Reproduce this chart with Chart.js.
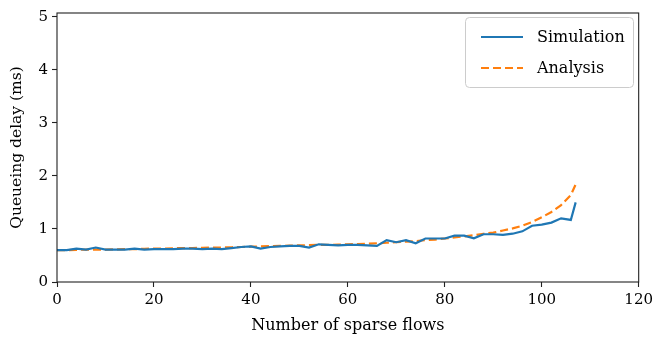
<!DOCTYPE html>
<html><head><meta charset="utf-8">
<script src="https://cdn.jsdelivr.net/npm/chart.js@4/dist/chart.umd.min.js"></script>
<style>html,body{margin:0;padding:0;background:#fff;}#wrap{width:657px;height:339px;}</style>
</head><body><div id="wrap"><canvas id="c" width="657" height="339"></canvas></div>
<script>
const flows = [0,2,4,6,8,10,12,14,16,18,20,22,24,26,28,30,32,34,36,38,40,42,44,46,48,50,52,54,56,58,60,62,64,66,68,70,72,74,76,78,80,82,84,86,88,90,92,94,96,98,100,102,104,106,107];
const simulation = [0.60,0.60,0.63,0.61,0.65,0.61,0.61,0.61,0.63,0.61,0.62,0.62,0.62,0.63,0.63,0.62,0.63,0.62,0.64,0.66,0.67,0.63,0.66,0.67,0.68,0.68,0.65,0.71,0.70,0.69,0.70,0.70,0.69,0.68,0.79,0.75,0.79,0.73,0.82,0.82,0.82,0.875,0.875,0.825,0.90,0.90,0.89,0.91,0.955,1.06,1.08,1.12,1.20,1.17,1.50];
const analysis = [0.60,0.60,0.605,0.61,0.61,0.61,0.615,0.62,0.62,0.625,0.63,0.63,0.635,0.64,0.64,0.645,0.65,0.65,0.655,0.66,0.665,0.67,0.675,0.68,0.685,0.69,0.695,0.70,0.70,0.705,0.71,0.715,0.72,0.73,0.74,0.75,0.76,0.77,0.79,0.80,0.82,0.84,0.86,0.88,0.91,0.93,0.97,1.01,1.06,1.13,1.22,1.32,1.45,1.64,1.84];
const xTicks = [0,20,40,60,80,100,120];
const yTicks = [0,1,2,3,4,5];
const seriesNames = ['Simulation','Analysis'];
const FONT = "'DejaVu Serif', serif";

const boxPlugin = {
  id:'box',
  afterDraw(chart){
    const {ctx, chartArea:a} = chart;
    ctx.save();
    ctx.strokeStyle='#222'; ctx.lineWidth=1.1;
    ctx.strokeRect(a.left, a.top, a.right-a.left, a.bottom-a.top);
    // legend
    const bx=465.5, by=17.5, bw=168, bh=70, r=4;
    ctx.fillStyle='rgba(255,255,255,0.8)';
    ctx.strokeStyle='#cccccc'; ctx.lineWidth=1;
    ctx.beginPath();
    ctx.moveTo(bx+r,by); ctx.lineTo(bx+bw-r,by); ctx.arcTo(bx+bw,by,bx+bw,by+r,r);
    ctx.lineTo(bx+bw,by+bh-r); ctx.arcTo(bx+bw,by+bh,bx+bw-r,by+bh,r);
    ctx.lineTo(bx+r,by+bh); ctx.arcTo(bx,by+bh,bx,by+bh-r,r);
    ctx.lineTo(bx,by+r); ctx.arcTo(bx,by,bx+r,by,r); ctx.closePath();
    ctx.fill(); ctx.stroke();
    const ds = chart.data.datasets;
    const ys=[37,68];
    ds.forEach((d,i)=>{
      ctx.strokeStyle=d.borderColor; ctx.lineWidth=2.2;
      ctx.setLineDash(d.borderDash||[]);
      ctx.beginPath(); ctx.moveTo(481,ys[i]); ctx.lineTo(523,ys[i]); ctx.stroke();
      ctx.setLineDash([]);
      ctx.fillStyle='#000'; ctx.font="16px "+FONT; ctx.textBaseline='middle';
      ctx.fillText(d.label, 537, ys[i]+1);
    });
    ctx.restore();
  }
};

new Chart(document.getElementById('c'), {
  type:'line',
  data:{
    datasets:[
      {label:seriesNames[0], data:flows.map((x,i)=>({x,y:simulation[i]})), borderColor:'#1f77b4', borderWidth:2.2, pointRadius:0, tension:0, fill:false},
      {label:seriesNames[1], data:flows.map((x,i)=>({x,y:analysis[i]})), borderColor:'#ff7f0e', borderWidth:2.2, borderDash:[8,4], pointRadius:0, tension:0, fill:false}
    ]
  },
  options:{
    responsive:false, animation:false,
    layout:{padding:{top:10,right:15,left:0,bottom:0}},
    plugins:{legend:{display:false}, tooltip:{enabled:false}},
    scales:{
      x:{type:'linear', min:0, max:120,
        afterBuildTicks(s){ s.ticks = xTicks.map(v=>({value:v})); },
        afterFit(s){ s.height=57; },
        grid:{drawOnChartArea:false, tickLength:5, color:'#222', tickWidth:1.1},
        border:{display:false},
        ticks:{color:'#000', font:{family:FONT,size:15}, padding:4, maxRotation:0},
        title:{display:true, text:'Number of sparse flows', color:'#000', font:{family:FONT,size:16}, padding:{top:6}}
      },
      y:{type:'linear', min:0, max:5.07,
        afterBuildTicks(s){ s.ticks = yTicks.map(v=>({value:v})); },
        afterFit(s){ s.width=57; },
        grid:{drawOnChartArea:false, tickLength:5, color:'#222', tickWidth:1.1},
        border:{display:false},
        ticks:{color:'#000', font:{family:FONT,size:15}, padding:4},
        title:{display:true, text:'Queueing delay (ms)', color:'#000', font:{family:FONT,size:15.5}, padding:{top:8,bottom:0}}
      }
    }
  },
  plugins:[boxPlugin]
});
</script></body></html>
